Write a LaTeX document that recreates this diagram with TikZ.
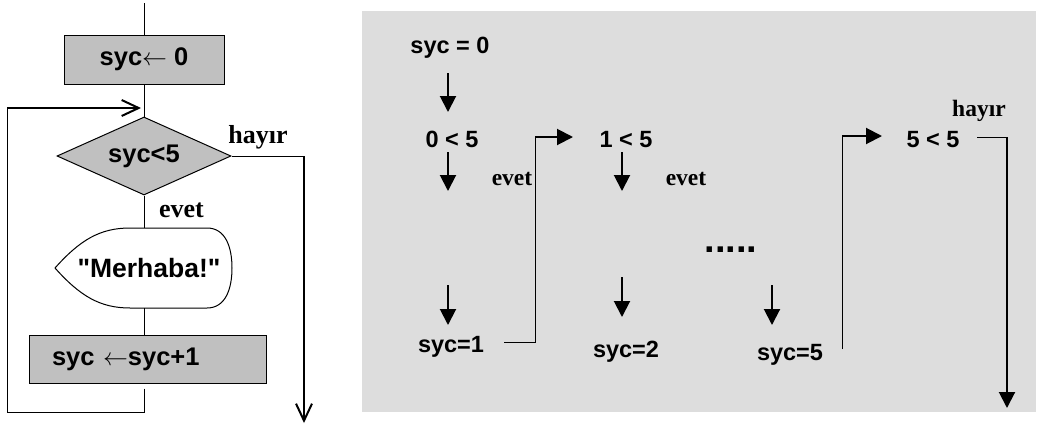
\documentclass[tikz,border=0pt]{standalone}
\usepackage{fontspec}
\setmainfont{Liberation Sans}
\newfontfamily\tnr{Liberation Serif}
\usetikzlibrary{arrows.meta,calc,shapes.geometric}
\definecolor{boxgray}{HTML}{C0C0C0}
\definecolor{panelgray}{HTML}{DDDDDD}
\begin{document}
\begin{tikzpicture}[x=1pt,y=-1pt,
  lbl/.style={font=\fontsize{25.5}{28}\selectfont\bfseries, inner sep=0pt},
  rlbl/.style={font=\fontsize{23.5}{26}\selectfont\bfseries, inner sep=0pt, anchor=base},
  slbl/.style={font=\fontsize{26}{28}\selectfont\tnr\bfseries, inner sep=0pt, anchor=base},
  rslbl/.style={font=\fontsize{23.5}{26}\selectfont\tnr\bfseries, inner sep=0pt, anchor=base},
  procbox/.style={draw, fill=boxgray, line width=1pt, inner sep=0pt},
  thinline/.style={line width=1pt},
  thickline/.style={line width=2pt},
  openarr/.style={line width=2pt, -{Straight Barb[length=17pt,width=16pt,line width=2pt]}},
  fillarr/.style={line width=2pt, -{Triangle[length=16pt,width=16pt]}}
]
\useasboundingbox (0,0) rectangle (1037,426);

% ---------- left flowchart ----------
\node[procbox, lbl, minimum width=160pt, minimum height=49pt] (init) at (144,59.5) {syc$\leftarrow$ 0};
\node[procbox, lbl, diamond, aspect=2.23, minimum width=174pt, minimum height=78pt] (dec) at (144,156) {syc<5};
\draw[thinline, fill=white] (55,268) .. controls (80,240) and (100,228) .. (130,228) -- (207,228)
   .. controls (226,228) and (232,248) .. (232,268)
   .. controls (232,288) and (226,308) .. (207,308) -- (130,308)
   .. controls (100,308) and (80,296) .. (55,268) -- cycle;
\node[lbl, font=\fontsize{26.5}{28}\selectfont\bfseries] (msg) at (149,268) {\textquotedbl Merhaba!\textquotedbl};
\coordinate (msgtop) at (144,228);
\coordinate (msgbot) at (144,308);
\node[procbox, lbl, minimum height=48pt, text width=191pt, inner xsep=23pt, align=left] (inc) at (147.5,359) {syc $\leftarrow$syc+1};

\coordinate (top) at (144,3);
\coordinate (join) at (144,108);
\coordinate (lb) at (144,412);
\coordinate (ll) at (7,412);
\coordinate (lt) at (7,108);
\coordinate (hr) at (304,156);
\coordinate (hend) at (304,423);

\draw[thinline] (top) -- (init.north);
\draw[thinline] (init.south) -- (dec.north);
\draw[thinline] (dec.south) -- (msgtop);
\draw[thinline] (msgbot) -- (msgbot |- inc.north);
\draw[thinline, shorten <=5pt] (lb |- inc.south) -- (lb) -- (ll) -- (lt);
\draw[openarr, shorten >=3pt] (lt) -- (join);
\draw[thinline] (dec.east) -- (hr);
\draw[openarr] (hr) -- (hend);

\node[slbl] (hay) at (258,143) {hayır};
\node[slbl] (evt) at (181.5,217) {evet};

% ---------- right panel ----------
\fill[panelgray] (362,11) rectangle (1036,412);

\node[rlbl] (s0) at (450,53) {syc = 0};
\node[rlbl] (c0) at (452,147) {0 < 5};
\node[rlbl] (c1) at (626,147) {1 < 5};
\node[rlbl] (c5) at (933,147) {5 < 5};
\node[rslbl] (e1) at (512,185) {evet};
\node[rslbl] (e2) at (686,185) {evet};
\node[rslbl] (h2) at (979,116) {hayır};
\node[rlbl] (s1) at (451,352) {syc=1};
\node[rlbl] (s2) at (626,357) {syc=2};
\node[rlbl] (s5) at (790,360) {syc=5};
\node[font=\fontsize{38}{38}\selectfont\bfseries, inner sep=0pt, anchor=base] (dots) at (731,252) {.....};

\coordinate (a1s) at (448,73);  \coordinate (a1e) at (448,112);
\coordinate (a2s) at (448,152); \coordinate (a2e) at (448,191);
\coordinate (a3s) at (622,152); \coordinate (a3e) at (622,191);
\coordinate (a4s) at (448,285); \coordinate (a4e) at (448,325);
\coordinate (a5s) at (622,277); \coordinate (a5e) at (622,317);
\coordinate (a6s) at (772,285); \coordinate (a6e) at (772,325);
\draw[fillarr] (a1s) -- (a1e);
\draw[fillarr] (a2s) -- (a2e);
\draw[fillarr] (a3s) -- (a3e);
\draw[fillarr] (a4s) -- (a4e);
\draw[fillarr] (a5s) -- (a5e);
\draw[fillarr] (a6s) -- (a6e);

\coordinate (p1a) at (504,342);
\coordinate (p1b) at (535,342);
\coordinate (p1c) at (535,137);
\coordinate (p1d) at (573,137);
\draw[thinline] (p1a) -- (p1b) -- (p1c);
\draw[fillarr] (p1c) -- (p1d);

\coordinate (p5a) at (842,349);
\coordinate (p5c) at (842,136);
\coordinate (p5d) at (882,136);
\draw[thinline] (p5a) -- (p5c);
\draw[fillarr] (p5c) -- (p5d);

\coordinate (q5a) at (977,137);
\coordinate (q5b) at (1007,137);
\coordinate (q5c) at (1007,408);
\draw[thinline] (q5a) -- (q5b);
\draw[fillarr] (q5b) -- (q5c);
\end{tikzpicture}
\end{document}
